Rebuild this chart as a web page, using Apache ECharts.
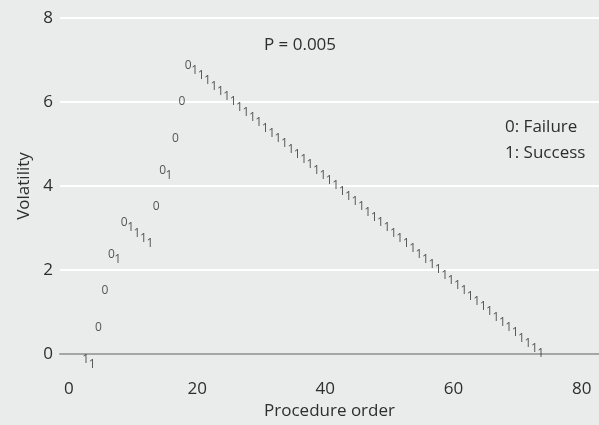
<!DOCTYPE html>
<html>
<head>
<meta charset="utf-8">
<script src="https://cdn.jsdelivr.net/npm/echarts@6/dist/echarts.min.js"></script>
<style>
html,body{margin:0;padding:0;background:#eaebeb;}
#chart{width:599px;height:425px;}
</style>
</head>
<body>
<div id="chart"></div>
<script>
// Procedure order (x)
var procedures = [2,3,4,5,6,7,8,9,10,11,12,13,14,15,16,17,18,19,20,21,22,23,24,25,26,27,28,29,30,31,32,33,34,35,36,37,38,39,40,41,42,43,44,45,46,47,48,49,50,51,52,53,54,55,56,57,58,59,60,61,62,63,64,65,66,67,68,69,70,71,72,73];
// Outcome label (0: Failure, 1: Success)
var outcomes = [1,1,0,0,0,1,0,1,1,1,1,0,0,1,0,0,0,1,1,1,1,1,1,1,1,1,1,1,1,1,1,1,1,1,1,1,1,1,1,1,1,1,1,1,1,1,1,1,1,1,1,1,1,1,1,1,1,1,1,1,1,1,1,1,1,1,1,1,1,1,1,1];
// Volatility (y)
var volatility = [-0.125,-0.25,0.625,1.5,2.375,2.25,3.125,3.0,2.875,2.75,2.625,3.5,4.375,4.25,5.125,6.0,6.875,6.75,6.625,6.5,6.375,6.25,6.125,6.0,5.875,5.75,5.625,5.5,5.375,5.25,5.125,5.0,4.875,4.75,4.625,4.5,4.375,4.25,4.125,4.0,3.875,3.75,3.625,3.5,3.375,3.25,3.125,3.0,2.875,2.75,2.625,2.5,2.375,2.25,2.125,2.0,1.875,1.75,1.625,1.5,1.375,1.25,1.125,1.0,0.875,0.75,0.625,0.5,0.375,0.25,0.125,0.0];
var xTicks = [0,20,40,60,80];
var annotation = 'P = 0.005';
var legendLines = ['0: Failure', '1: Success'];

var FONT = '"Open Sans", "Noto Sans", sans-serif';
var TXT = '#2e2e2e';
var data = procedures.map(function(p, i){ return [p, volatility[i], outcomes[i]]; });

var chart = echarts.init(document.getElementById('chart'), null, {renderer:'canvas'});
chart.setOption({
  backgroundColor: '#eaebeb',
  animation: false,
  grid: {left: 60, right: 0, top: 18, bottom: 71, outerBoundsMode: 'none', containLabel: false},
  xAxis: {
    type: 'value', min: -1.4, max: 82.7, offset: 20,
    axisLine: {show: true, lineStyle: {color: '#a3a5a6', width: 2}},
    axisTick: {show: false, customValues: xTicks},
    axisLabel: {customValues: xTicks, color: TXT, fontFamily: FONT, fontSize: 17, margin: 7},
    splitLine: {show: false},
    name: 'Procedure order', nameLocation: 'middle', nameGap: 29,
    nameTextStyle: {color: TXT, fontFamily: FONT, fontSize: 17}
  },
  yAxis: {
    type: 'value', min: 0, max: 8, interval: 2,
    axisLine: {show: false}, axisTick: {show: false},
    axisLabel: {color: TXT, fontFamily: FONT, fontSize: 17, margin: 7},
    splitLine: {show: true, lineStyle: {color: '#ffffff', width: 2}},
    name: 'Volatility', nameLocation: 'middle', nameGap: 25, nameRotate: 90,
    nameTextStyle: {color: TXT, fontFamily: FONT, fontSize: 17}
  },
  graphic: [
    {type:'text', x: 300, y: 45, style:{text: annotation, fill: TXT, font: '17px ' + FONT, align: 'center', verticalAlign: 'middle'}},
    {type:'text', x: 505, y: 127, style:{text: legendLines[0], fill: TXT, font: '17px ' + FONT, align: 'left', verticalAlign: 'middle'}},
    {type:'text', x: 505, y: 153, style:{text: legendLines[1], fill: TXT, font: '17px ' + FONT, align: 'left', verticalAlign: 'middle'}}
  ],
  series: [{
    type: 'scatter', clip: false, data: data,
    symbol: 'circle', symbolSize: 1,
    itemStyle: {color: 'rgba(0,0,0,0)'},
    label: {
      show: true, position: 'right', distance: 0,
      formatter: function(p){ return String(p.data[2]); },
      color: TXT, fontFamily: FONT, fontSize: 12
    }
  }]
});
</script>
</body>
</html>
